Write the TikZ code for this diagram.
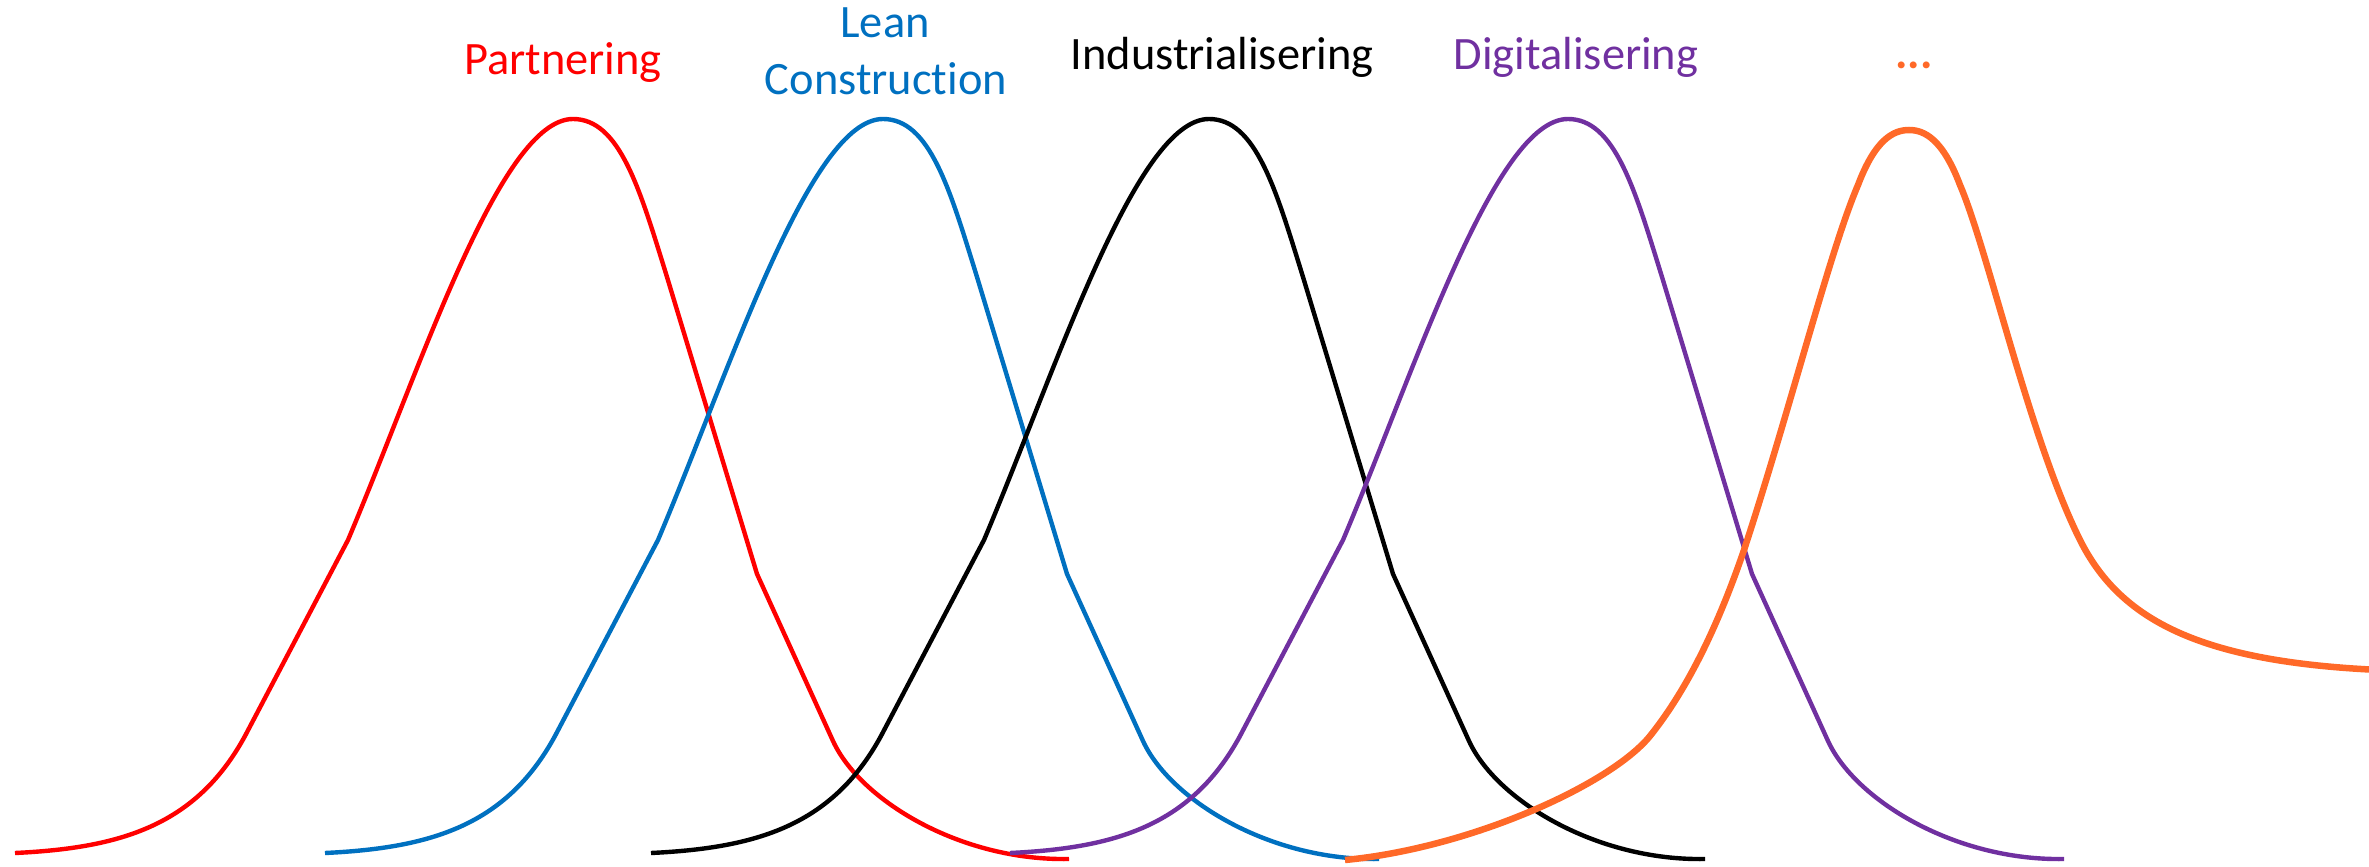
\documentclass[tikz,border=0pt]{standalone}
\usepackage{fontspec}
\setmainfont{Carlito}[Ligatures={CommonOff,ContextualOff,RareOff}]
\definecolor{cRed}{RGB}{255,0,0}
\definecolor{cBlue}{RGB}{0,112,192}
\definecolor{cPurple}{RGB}{112,48,160}
\definecolor{cOrange}{RGB}{255,105,40}
\tikzset{
  wave/.style={line width=1.25pt, line join=round},
  owave/.style={line width=1.85pt, line join=round},
  lbl/.style={anchor=base, inner sep=0pt, font=\fontsize{13.2}{16.2}\selectfont, align=center}
}
\newcommand{\bellcurve}{(15,853) .. controls (120,848) and (196,826) .. (245,736) -- (348,540) .. controls (420,370) and (500,119) .. (573,119) .. controls (620,119) and (640,190) .. (667,277) -- (757,574) -- (833,741) .. controls (860,800) and (960,861) .. (1069,859)}
\begin{document}
\begin{tikzpicture}[x=0.01cm,y=-0.01cm]
\useasboundingbox (0,0) rectangle (2369,867);
% curves
\draw[wave, cRed] \bellcurve;
\begin{scope}[shift={(310,0)}]
  \draw[wave, cBlue] \bellcurve;
\end{scope}
\begin{scope}[shift={(636,0)}]
  \draw[wave, black] \bellcurve;
\end{scope}
\begin{scope}[shift={(995,0)}]
  \draw[wave, cPurple] \bellcurve;
\end{scope}
\draw[owave, cOrange] (1345,860) .. controls (1470,848) and (1610,785) .. (1650,736)
  .. controls (1690,686) and (1720,620) .. (1744,550)
  .. controls (1790,410) and (1830,250) .. (1858,185)
  .. controls (1875,140) and (1893,130) .. (1909,130)
  .. controls (1925,130) and (1943,140) .. (1960,185)
  .. controls (1988,250) and (2030,440) .. (2080,540)
  .. controls (2120,620) and (2200,662) .. (2380,670);
% labels
\node[lbl, text=cRed] (partnering) at (563,75) {Partnering};
\node[lbl, text=cBlue] (lean) at (885,38) {Lean};
\node[lbl, text=cBlue] (construction) at (886,95) {Construction};
\node[lbl, text=black] (industri) at (1222,70) {Industrialisering};
\node[lbl, text=cPurple] (digital) at (1576,70) {Digitalisering};
\node[lbl, text=cOrange, font=\fontsize{13.2}{16.2}\selectfont\bfseries] (dots) at (1914,69) {...};
\end{tikzpicture}
\end{document}
